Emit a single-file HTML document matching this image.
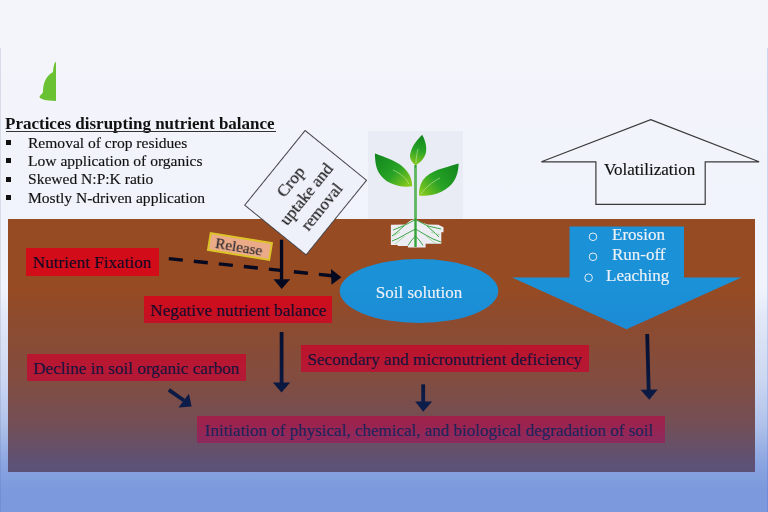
<!DOCTYPE html>
<html><head><meta charset="utf-8">
<style>
html,body{margin:0;padding:0;}
body{-webkit-font-smoothing:antialiased;-webkit-text-stroke:0.15px currentColor;width:768px;height:512px;overflow:hidden;position:relative;background:linear-gradient(to bottom,#f4f5fb 0px,#f4f5fb 40px,#f0f3fb 230px,#f0f3fb 512px);font-family:"Liberation Serif",serif;}
.a{position:absolute;white-space:nowrap;will-change:transform;}
.box{position:absolute;background:#d20c18;color:#160824;font-size:17.15px;line-height:30px;height:27.3px;padding-left:6.3px;overflow:visible;box-sizing:border-box;white-space:nowrap;}
#soil{left:8px;top:219px;width:747px;height:253px;background:#964b23;}
#ov{left:0;top:0;width:768px;height:512px;background:linear-gradient(to bottom, rgba(38,88,198,0) 0px, rgba(38,88,198,0) 290px, rgba(38,88,198,0.075) 320px, rgba(38,88,198,0.18) 380px, rgba(38,88,198,0.31) 423px, rgba(38,88,198,0.5) 463px, rgba(38,88,198,0.58) 490px, rgba(38,88,198,0.58) 512px);}
.li{font-size:15.55px;line-height:18.25px;left:28px;color:#111;}
.bul{position:absolute;left:6px;width:5px;height:5px;background:#111;}
</style></head>
<body>
<!-- side faint lines -->
<div class="a" style="left:0;top:48px;width:1px;height:464px;background:#d8dce8;"></div>
<div class="a" style="left:767px;top:48px;width:1px;height:464px;background:#cdd5f0;"></div>

<!-- leaf -->
<svg class="a" style="left:0;top:0" width="768" height="512" viewBox="0 0 768 512">
<path d="M55,62.3 L56,62.3 L56,101 L49,100.5 C43,100 39.5,98.5 39.5,96.5 C40,95 42.5,94 43,92 C43,84 45.5,76 53,72 L53.3,69 C53.5,66 54.5,63.5 55,62.3 Z" fill="#6ac232"/>
</svg>

<!-- title & list -->
<div class="a" style="left:5px;top:113.8px;font-size:17px;line-height:20px;font-weight:bold;color:#111;-webkit-text-stroke:0;">Practices disrupting nutrient balance</div>
<div class="a" style="left:5.5px;top:130.6px;width:269.5px;height:1.4px;background:#333;"></div>
<div class="bul" style="top:140px"></div>
<div class="bul" style="top:158.3px"></div>
<div class="bul" style="top:176.8px"></div>
<div class="bul" style="top:195px"></div>
<div class="a li" style="top:133.5px">Removal of crop residues</div>
<div class="a li" style="top:151.7px">Low application of organics</div>
<div class="a li" style="top:170.4px">Skewed N:P:K ratio</div>
<div class="a li" style="top:188.7px">Mostly N-driven application</div>

<!-- plant box -->
<div class="a" style="left:367.5px;top:130.5px;width:95px;height:89px;background:#eaecf5;"></div>

<!-- volatilization arrow -->
<svg class="a" style="left:0;top:0" width="768" height="512" viewBox="0 0 768 512">
<polygon points="650.7,119.6 759.1,161.8 705.2,161.8 705.2,204.3 595.9,204.3 595.9,161.8 541.4,161.8" fill="#f2f4fb" stroke="#3a3a3a" stroke-width="1.2"/>
</svg>
<div class="a" style="left:604px;top:160px;font-size:17px;line-height:20px;color:#111;">Volatilization</div>

<!-- soil -->
<div id="soil" class="a"></div>

<!-- roots white area -->
<svg class="a" style="left:0;top:0" width="768" height="512" viewBox="0 0 768 512">
<path d="M390.9,224.7 L405.3,224.5 L410.4,220.5 L415.5,219 L421.4,222.5 L428,224.5 L438.4,224.7 L443.5,227.3 L443.5,232.3 L441.3,232.3 L441.3,243.7 L425.6,243.7 L425.6,247.6 L407.9,247.6 L407.9,245.9 L397.7,245.9 L397.7,245 L390.9,245 Z" fill="#eceef4"/>
</svg>

<!-- plant -->
<svg class="a" style="left:0;top:0" width="768" height="512" viewBox="0 0 768 512">
<defs>
<linearGradient id="lg1" gradientUnits="userSpaceOnUse" x1="376" y1="154" x2="410" y2="186">
<stop offset="0" stop-color="#10861c"/><stop offset="0.55" stop-color="#28a226"/><stop offset="1" stop-color="#8ccc1c"/>
</linearGradient>
<linearGradient id="lg2" gradientUnits="userSpaceOnUse" x1="458" y1="164" x2="420" y2="195">
<stop offset="0" stop-color="#10861c"/><stop offset="0.55" stop-color="#28a226"/><stop offset="1" stop-color="#8ccc1c"/>
</linearGradient>
<linearGradient id="lg3" gradientUnits="userSpaceOnUse" x1="422" y1="135" x2="415" y2="165">
<stop offset="0" stop-color="#10861c"/><stop offset="0.5" stop-color="#28a226"/><stop offset="1" stop-color="#86c81e"/>
</linearGradient>
</defs>
<path d="M422.2,134.7 C425,140 427,146 426,152 C425,158 420,163 415.7,165.2 C411,162 409,157 410.5,153 C412,146 417,140 422.2,134.7 Z" fill="url(#lg3)"/>
<path d="M374.9,153.4 C387,158 403,162 409.5,175 C411.5,179 412.2,183 412.2,186.3 C398,188 385,183 379,173 C375.5,167 375,159 374.9,153.4 Z" fill="url(#lg1)"/>
<path d="M458.7,163.4 C444,168 430,170 423,180 C419.5,185 419,191 419.1,195.5 C433,197 448,191 454,181 C457,176 458.5,170 458.7,163.4 Z" fill="url(#lg2)"/>
<g stroke="#c8eab0" stroke-width="0.7" fill="none" opacity="0.8">
<path d="M393,170 C400,173 406,178 409,184"/><path d="M440,178 C432,182 425,188 421,194"/><path d="M416,163 C416,158 417,153 418,149"/>
</g>
<path d="M415.5,165 L415.5,247" stroke="#36a438" stroke-width="2.4"/>
<path d="M415.5,168 L415.5,218" stroke="#7cc870" stroke-width="0.6"/>
<g stroke="#2e9c34" stroke-width="0.9" fill="none">
<path d="M415.5,219.5 L410,222.5 L403,226 L393,230"/><path d="M415.5,229 L406,234 L398,238.5 L392,241"/><path d="M404,226 L396,233 L392,236"/><path d="M415.5,236 L411,241 L408,245.5"/>
<path d="M415.5,219.5 L421,222.5 L428,226 L441,229"/><path d="M415.5,229 L424,234 L433,239 L441,242"/><path d="M427,226 L435,233 L439,237"/><path d="M415.5,236 L420,241 L423,245.5"/>
</g>
<g stroke="#8fd08a" stroke-width="0.7" fill="none">
<path d="M400,232 L393,236"/><path d="M431,232 L440,235"/><path d="M405,236 L395,244"/><path d="M426,236 L436,244"/>
</g>
</svg>

<!-- boxes -->
<div class="box" style="left:26.3px;top:248.3px;width:132.7px;">Nutrient Fixation</div>
<div class="box" style="left:143.8px;top:296px;width:188.2px;">Negative nutrient balance</div>
<div class="box" style="left:26.6px;top:353.7px;width:219px;">Decline in soil organic carbon</div>
<div class="box" style="left:300.9px;top:345.1px;width:287.8px;">Secondary and micronutrient deficiency</div>
<div class="box" style="left:197px;top:416px;width:467.7px;padding-left:7.5px;font-size:17px;">Initiation of physical, chemical, and biological degradation of soil</div>

<!-- soil solution -->
<svg class="a" style="left:0;top:0" width="768" height="512" viewBox="0 0 768 512">
<ellipse cx="419" cy="291" rx="79.3" ry="32" fill="#1b91d7"/>
<polygon points="569.5,226.5 684,226.5 684,277.5 741.5,277.5 626.5,329.3 512,277.5 569.5,277.5" fill="#1b91d7"/>
<g fill="none" stroke="#e8eef6" stroke-width="1">
<circle cx="593" cy="236.8" r="3.8"/><circle cx="593" cy="256.8" r="3.8"/><circle cx="588.6" cy="277.7" r="3.8"/>
</g>
</svg>
<div class="a" style="left:339px;width:160px;text-align:center;top:282.6px;font-size:17px;line-height:20px;color:#eef2f8;">Soil solution</div>
<div class="a" style="left:611.5px;top:225px;font-size:17px;line-height:20px;color:#eef2f8;">Erosion</div>
<div class="a" style="left:611.5px;top:245.2px;font-size:17px;line-height:20px;color:#eef2f8;">Run-off</div>
<div class="a" style="left:606.3px;top:266.3px;font-size:17px;line-height:20px;color:#eef2f8;">Leaching</div>

<!-- arrows -->
<svg class="a" style="left:0;top:0" width="768" height="512" viewBox="0 0 768 512">
<g fill="#040920" stroke="none">
<line x1="168.8" y1="258.6" x2="332" y2="275.8" stroke="#040920" stroke-width="3.4" stroke-dasharray="14.1 11.05"/>
<polygon points="341.4,277.2 331.5,284.8 330.9,269"/>
<rect x="279.9" y="239.7" width="3.3" height="40"/>
<polygon points="273.5,279.3 290.2,279.3 281.7,288.9"/>
<rect x="279.7" y="332" width="3.8" height="52"/>
<polygon points="272.9,382.5 290.2,382.5 281.5,392.6"/>
<rect x="421.3" y="384.3" width="3.8" height="19"/>
<polygon points="415.2,401.6 432.1,401.6 423.2,411.7"/>
<polygon points="645.3,334 649.1,334 650.6,391 646.8,391"/>
<polygon points="640.5,389.7 657.7,389.5 649.3,399.7"/>
<line x1="168.8" y1="389.9" x2="184" y2="400.5" stroke="#040920" stroke-width="3.8"/>
<polygon points="191.6,406.5 178.5,407.5 188.9,393.8"/>
</g>
</svg>

<!-- release label -->
<div class="a" style="left:207.6px;top:236.8px;width:64px;height:18.5px;box-sizing:border-box;background:#ebaa88;border:2px solid #dcc428;transform:rotate(9.4deg);font-size:15.3px;line-height:15px;text-align:center;color:#26262c;padding-right:2px;">Release</div>

<!-- crop box -->
<div class="a" style="left:257.05px;top:153.2px;width:96.5px;height:79.5px;box-sizing:border-box;background:#eef1fa;border:1.4px solid #46464c;transform:rotate(-51deg);font-size:17px;line-height:20px;text-align:center;color:#111;white-space:normal;padding-top:10.6px;padding-right:1px;">Crop<br>uptake and<br>removal</div>

<!-- overlay -->
<div id="ov" class="a"></div>
</body></html>
